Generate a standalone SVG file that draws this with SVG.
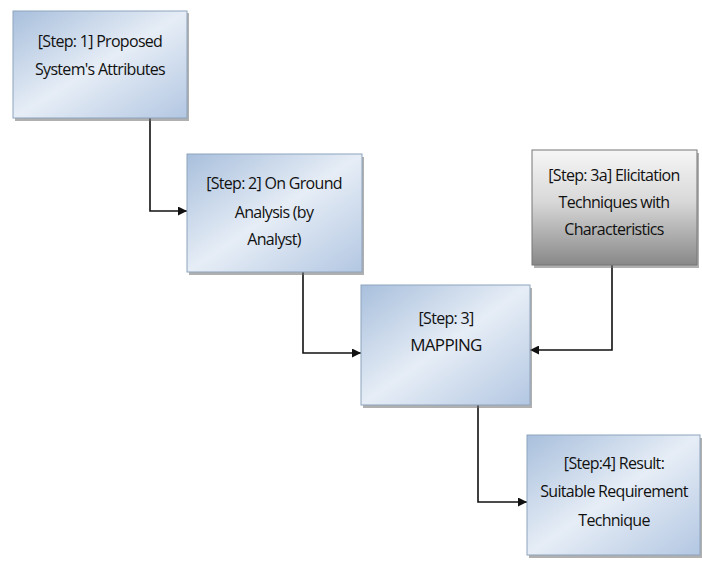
<svg xmlns="http://www.w3.org/2000/svg" width="702" height="565" viewBox="0 0 702 565">
<defs>
<linearGradient id="blue" x1="0" y1="0" x2="1" y2="1">
<stop offset="0" stop-color="#a8bfdc"/>
<stop offset="0.5" stop-color="#e6edf6"/>
<stop offset="1" stop-color="#b3c7e2"/>
</linearGradient>
<linearGradient id="gray" x1="0" y1="0" x2="0" y2="1">
<stop offset="0" stop-color="#f6f6f6"/>
<stop offset="0.45" stop-color="#d8d8d8"/>
<stop offset="1" stop-color="#888888"/>
</linearGradient>
<marker id="arr" viewBox="0 0 10 10" refX="10" refY="5" markerWidth="9" markerHeight="9" markerUnits="userSpaceOnUse" orient="auto">
<path d="M0,0 L10,5 L0,10 z" fill="#111"/>
</marker>
</defs>
<style>
.box{stroke:#8ea3bd;stroke-width:1}
.shadow{fill:#6f6f6f;opacity:0.55}
.t{font-family:"Open Sans","Liberation Sans",sans-serif;font-size:16px;fill:#111;text-anchor:middle;letter-spacing:-0.7px}
.c{fill:none;stroke:#111;stroke-width:1.6}
</style>
<rect width="702" height="565" fill="#ffffff"/>
<g id="connectors">
<path class="c" d="M150,118 V211 H187" marker-end="url(#arr)"/>
<path class="c" d="M303,272 V353 H361" marker-end="url(#arr)"/>
<path class="c" d="M612,265 V350 H530" marker-end="url(#arr)"/>
<path class="c" d="M478,405 V502 H527" marker-end="url(#arr)"/>
</g>
<g id="step1">
<rect class="shadow" x="15" y="13" width="174" height="108"/>
<rect class="box" x="13" y="11" width="174" height="107" fill="url(#blue)"/>
<text class="t" x="100" y="47">[Step: 1] Proposed</text>
<text class="t" x="100" y="75">System's Attributes</text>
</g>
<g id="step2">
<rect class="shadow" x="189" y="157" width="175" height="118"/>
<rect class="box" x="187" y="154" width="175" height="118" fill="url(#blue)"/>
<text class="t" x="274" y="189">[Step: 2] On Ground</text>
<text class="t" x="274" y="218">Analysis  (by</text>
<text class="t" x="274" y="245">Analyst)</text>
</g>
<g id="step3a">
<rect class="shadow" x="534" y="153" width="165" height="115"/>
<rect class="box" x="532" y="150" width="165" height="115" fill="url(#gray)" style="stroke:#777"/>
<text class="t" x="614" y="181">[Step: 3a] Elicitation</text>
<text class="t" x="614" y="208">Techniques with</text>
<text class="t" x="614" y="235">Characteristics</text>
</g>
<g id="step3">
<rect class="shadow" x="363" y="288" width="169" height="120"/>
<rect class="box" x="361" y="285" width="169" height="120" fill="url(#blue)"/>
<text class="t" x="446" y="324">[Step: 3]</text>
<text class="t" x="446" y="351" style="font-size:17px">MAPPING</text>
</g>
<g id="step4">
<rect class="shadow" x="529" y="438" width="173" height="120"/>
<rect class="box" x="527" y="435" width="173" height="120" fill="url(#blue)"/>
<text class="t" x="614" y="469">[Step:4] Result:</text>
<text class="t" x="614" y="497">Suitable Requirement</text>
<text class="t" x="614" y="526">Technique</text>
</g>
</svg>
